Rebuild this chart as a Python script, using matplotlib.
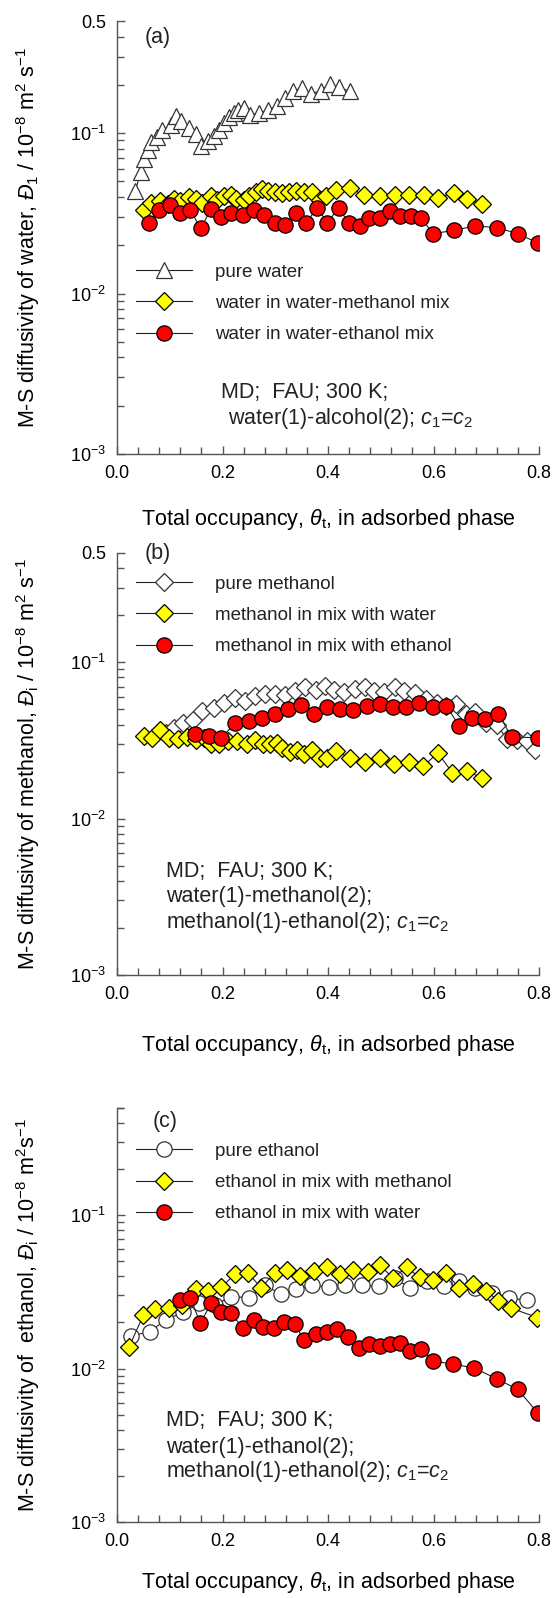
import numpy as np
import matplotlib
matplotlib.use("Agg")
import matplotlib.pyplot as plt
from matplotlib.ticker import FixedLocator, NullFormatter

plt.rcParams['font.family'] = ['Liberation Sans', 'DejaVu Sans']
plt.rcParams['mathtext.fontset'] = 'custom'
plt.rcParams['mathtext.rm'] = 'Liberation Sans'
plt.rcParams['mathtext.it'] = 'Liberation Sans:italic'
plt.rcParams['text.color'] = '#222222'

# ---------------- panel (a): water ----------------
a_pure_x = [0.035, 0.045, 0.052, 0.058, 0.065, 0.075, 0.085, 0.102, 0.112, 0.122, 0.136,
            0.149, 0.159, 0.172, 0.183, 0.193, 0.203, 0.213, 0.221, 0.230, 0.240, 0.253,
            0.270, 0.287, 0.303, 0.319, 0.334, 0.350, 0.367, 0.386, 0.404, 0.421, 0.441]
a_pure_y = [0.0438, 0.0575, 0.069, 0.079, 0.0875, 0.094, 0.104, 0.112, 0.128, 0.119, 0.107,
            0.099, 0.083, 0.0897, 0.0966, 0.104, 0.115, 0.126, 0.133, 0.140, 0.143, 0.130,
            0.133, 0.140, 0.147, 0.166, 0.184, 0.190, 0.175, 0.184, 0.201, 0.193, 0.182]

a_meoh_x = [0.052, 0.065, 0.082, 0.097, 0.109, 0.120, 0.136, 0.149, 0.162, 0.178, 0.189,
            0.203, 0.216, 0.226, 0.240, 0.250, 0.263, 0.274, 0.287, 0.300, 0.313, 0.327,
            0.340, 0.354, 0.370, 0.384, 0.397, 0.415, 0.442, 0.468, 0.498, 0.527, 0.554,
            0.582, 0.609, 0.638, 0.664, 0.691]
a_meoh_y = [0.033, 0.0369, 0.0378, 0.036, 0.0388, 0.0378, 0.0401, 0.0388, 0.0369, 0.0403, 0.0384,
            0.0403, 0.0411, 0.0391, 0.0384, 0.0406, 0.0427, 0.0449, 0.0438, 0.0427, 0.0423, 0.0431,
            0.0438, 0.0427, 0.0427, 0.0384, 0.0403, 0.0444, 0.0454, 0.0411, 0.0403, 0.0411, 0.0411,
            0.0411, 0.0397, 0.0423, 0.0391, 0.036]

a_etoh_x = [0.060, 0.080, 0.100, 0.119, 0.139, 0.159, 0.178, 0.198, 0.217, 0.238, 0.259,
            0.279, 0.299, 0.319, 0.339, 0.359, 0.379, 0.399, 0.420, 0.440, 0.460, 0.478,
            0.498, 0.517, 0.537, 0.557, 0.577, 0.599, 0.639, 0.679, 0.720, 0.760, 0.799]
a_etoh_y = [0.0277, 0.033, 0.0354, 0.0318, 0.033, 0.0255, 0.0337, 0.0299, 0.0318, 0.031, 0.033,
            0.031, 0.0277, 0.0267, 0.0318, 0.0277, 0.0342, 0.0277, 0.0342, 0.0274, 0.0264, 0.0295,
            0.0295, 0.0326, 0.0303, 0.0306, 0.0295, 0.0236, 0.0248, 0.0264, 0.0258, 0.0236, 0.0206]

# ---------------- panel (b): methanol ----------------
b_pure_x = [0.092, 0.109, 0.126, 0.144, 0.162, 0.183, 0.203, 0.223, 0.243, 0.261, 0.281,
            0.300, 0.319, 0.337, 0.357, 0.377, 0.394, 0.411, 0.431, 0.451, 0.471, 0.488,
            0.507, 0.527, 0.545, 0.565, 0.585, 0.606, 0.624, 0.642, 0.661, 0.679, 0.699,
            0.720, 0.740, 0.758, 0.777, 0.793]
b_pure_y = [0.0355, 0.0382, 0.0411, 0.0426, 0.0489, 0.0508, 0.0553, 0.0595, 0.0566, 0.0610, 0.0626,
            0.0626, 0.0619, 0.0651, 0.0691, 0.0664, 0.0708, 0.0664, 0.0641, 0.0674, 0.0698, 0.0658,
            0.0641, 0.0698, 0.0658, 0.0632, 0.0581, 0.0553, 0.0526, 0.0539, 0.0470, 0.0484, 0.0411,
            0.0397, 0.0321, 0.0317, 0.0313, 0.0273]

b_water_x = [0.052, 0.066, 0.082, 0.099, 0.115, 0.132, 0.149, 0.164, 0.179, 0.194, 0.211,
             0.228, 0.246, 0.261, 0.276, 0.290, 0.303, 0.313, 0.328, 0.342, 0.355, 0.370,
             0.384, 0.399, 0.416, 0.441, 0.471, 0.498, 0.525, 0.554, 0.581, 0.608, 0.636,
             0.663, 0.691]
b_water_y = [0.0337, 0.0326, 0.0367, 0.0329, 0.0322, 0.0333, 0.0317, 0.0326, 0.0298, 0.0301, 0.0313,
             0.0313, 0.0298, 0.0317, 0.0301, 0.0298, 0.0306, 0.0281, 0.0268, 0.0273, 0.0260, 0.0273,
             0.0243, 0.0243, 0.0270, 0.0245, 0.0231, 0.0245, 0.0222, 0.0231, 0.0216, 0.0264, 0.0196,
             0.0203, 0.0182]

b_etoh_x = [0.147, 0.174, 0.198, 0.223, 0.250, 0.275, 0.299, 0.324, 0.348, 0.374, 0.399,
            0.422, 0.448, 0.473, 0.498, 0.523, 0.548, 0.573, 0.599, 0.624, 0.649, 0.673,
            0.697, 0.723, 0.748, 0.799]
b_etoh_y = [0.0349, 0.0337, 0.0329, 0.0406, 0.0422, 0.0438, 0.0470, 0.0501, 0.0534, 0.0470, 0.0519,
            0.0501, 0.0494, 0.0526, 0.0539, 0.0514, 0.0519, 0.0553, 0.0514, 0.0526, 0.0392, 0.0438,
            0.0432, 0.0470, 0.0333, 0.0329]

# ---------------- panel (c): ethanol ----------------
c_pure_x = [0.026, 0.062, 0.093, 0.126, 0.156, 0.186, 0.216, 0.250, 0.280, 0.310, 0.340,
            0.370, 0.401, 0.433, 0.465, 0.496, 0.527, 0.556, 0.588, 0.619, 0.649, 0.679,
            0.711, 0.743, 0.777]
c_pure_y = [0.0163, 0.0174, 0.0209, 0.0233, 0.0266, 0.0259, 0.0295, 0.0290, 0.0351, 0.0306, 0.0328,
            0.0351, 0.0340, 0.0349, 0.0349, 0.0343, 0.0390, 0.0333, 0.0374, 0.0345, 0.0374, 0.0337,
            0.0311, 0.0287, 0.0280]

c_meoh_x = [0.023, 0.050, 0.072, 0.099, 0.124, 0.149, 0.172, 0.198, 0.223, 0.248, 0.273,
            0.299, 0.323, 0.347, 0.374, 0.399, 0.422, 0.448, 0.475, 0.498, 0.523, 0.549,
            0.574, 0.599, 0.624, 0.649, 0.674, 0.699, 0.723, 0.747, 0.797]
c_meoh_y = [0.0139, 0.0223, 0.0243, 0.0248, 0.0259, 0.0328, 0.0323, 0.0340, 0.0411, 0.0422, 0.0337,
            0.0420, 0.0442, 0.0404, 0.0433, 0.0457, 0.0411, 0.0442, 0.0426, 0.0473, 0.0390, 0.0457,
            0.0393, 0.0378, 0.0420, 0.0333, 0.0358, 0.0323, 0.0276, 0.0248, 0.0215]

c_water_x = [0.119, 0.139, 0.158, 0.178, 0.197, 0.217, 0.238, 0.259, 0.277, 0.297, 0.316,
             0.337, 0.355, 0.377, 0.398, 0.418, 0.438, 0.458, 0.478, 0.498, 0.518, 0.537,
             0.556, 0.577, 0.599, 0.637, 0.677, 0.720, 0.760, 0.798]
c_water_y = [0.0280, 0.0290, 0.0197, 0.0266, 0.0235, 0.0230, 0.0183, 0.0209, 0.0188, 0.0183, 0.0201,
             0.0194, 0.0153, 0.0168, 0.0174, 0.0181, 0.0161, 0.0136, 0.0144, 0.0141, 0.0145, 0.0147,
             0.0130, 0.0134, 0.0112, 0.0107, 0.0101, 0.00857, 0.00731, 0.00512]

xlabel = r'Total occupancy, $\it{\theta}_{\rm t}$, in adsorbed phase'
ylabels = [
    r'M-S diffusivity of water, $\it{Đ}_{\rm 1}$ / 10$^{-8}$ m$^2$ s$^{-1}$',
    r'M-S diffusivity of methanol, $\it{Đ}_{\rm i}$ / 10$^{-8}$ m$^2$ s$^{-1}$',
    r'M-S diffusivity of  ethanol, $\it{Đ}_{\rm i}$ / 10$^{-8}$ m$^2$s$^{-1}$',
]

W, H = 554, 1598
fig = plt.figure(figsize=(W / 100, H / 100), dpi=100)

def make_axes(top, bottom, left=117, right=539):
    return fig.add_axes([left / W, 1 - bottom / H, (right - left) / W, (bottom - top) / H])

def style_axes(ax, ylabel, xlab_y, top_label=True):
    ax.set_xlim(0, 0.8)
    ax.set_yscale('log')
    ax.set_ylim(1e-3, 0.5)
    for s in ('top', 'right'):
        ax.spines[s].set_visible(False)
    for s in ('left', 'bottom'):
        ax.spines[s].set_color('#555555')
        ax.spines[s].set_linewidth(1.0)
    ax.set_xticks([0.0, 0.2, 0.4, 0.6, 0.8])
    ax.set_xticklabels(['0.0', '0.2', '0.4', '0.6', '0.8'])
    ax.xaxis.set_minor_locator(FixedLocator(np.arange(0.04, 0.8, 0.04)))
    major = [1e-3, 1e-2, 1e-1]
    labels = ['$10^{-3}$', '$10^{-2}$', '$10^{-1}$']
    if top_label:
        major.append(0.5)
        labels.append('0.5')
    ax.yaxis.set_major_locator(FixedLocator(major))
    ax.set_yticklabels(labels)
    minors = [m * 10.0 ** e for e in (-3, -2, -1) for m in range(2, 10) if m * 10.0 ** e <= 0.5]
    if not top_label:
        minors.append(0.5)
    ax.yaxis.set_minor_locator(FixedLocator(minors))
    ax.yaxis.set_minor_formatter(NullFormatter())
    ax.tick_params(which='both', direction='in', color='#555555', labelsize=13, width=1.0)
    ax.tick_params(which='major', length=6, pad=8)
    ax.tick_params(which='minor', length=5)
    ax.set_xlabel(xlabel, fontsize=15.5, va='center')
    ax.xaxis.set_label_coords(0.5, xlab_y)
    ax.set_ylabel(ylabel, fontsize=15.5, va='center')
    ax.yaxis.set_label_coords(-0.21, 0.5)

def series(ax, x, y, marker, face, ms, label, ec='black'):
    ax.plot(x, y, color='#222222', lw=0.8, marker=marker, ms=ms, mfc=face, mec=ec,
            mew=0.9, label=label)

def note(ax, lines, x, ys):
    for t, y in zip(lines, ys):
        ax.text(x, y, t, transform=ax.transAxes, fontsize=15.5, va='center', ha='left')

def add_legend(ax, y):
    ax.legend(loc='center left', bbox_to_anchor=(0.045, y), frameon=False, fontsize=13.5,
              handlelength=3.0, handletextpad=1.2, labelspacing=0.75, borderpad=0,
              borderaxespad=0)

# (a)
ax = make_axes(21, 454)
style_axes(ax, ylabels[0], -0.152)
series(ax, a_pure_x, a_pure_y, '^', 'white', 11, 'pure water', ec='#333333')
series(ax, a_meoh_x, a_meoh_y, 'D', '#ffff00', 9.5, 'water in water-methanol mix')
series(ax, a_etoh_x, a_etoh_y, 'o', '#ff0000', 11, 'water in water-ethanol mix')
add_legend(ax, 0.348)
note(ax, ['MD;  FAU; 300 K;'], 0.247, [0.143])
note(ax, [r'water(1)-alcohol(2); $\it{c}_{\rm 1}$=$\it{c}_{\rm 2}$'], 0.262, [0.083])
ax.text(0.065, 0.962, '(a)', transform=ax.transAxes, fontsize=15.5, va='center')

# (b)
ax = make_axes(553, 975)
style_axes(ax, ylabels[1], -0.168)
series(ax, b_pure_x, b_pure_y, 'D', 'white', 9.5, 'pure methanol', ec='#333333')
series(ax, b_water_x, b_water_y, 'D', '#ffff00', 9.5, 'methanol in mix with water')
series(ax, b_etoh_x, b_etoh_y, 'o', '#ff0000', 11, 'methanol in mix with ethanol')
add_legend(ax, 0.852)
note(ax, ['MD;  FAU; 300 K;', 'water(1)-methanol(2);',
          r'methanol(1)-ethanol(2); $\it{c}_{\rm 1}$=$\it{c}_{\rm 2}$'],
     0.117, [0.245, 0.185, 0.125])
ax.text(0.065, 0.999, '(b)', transform=ax.transAxes, fontsize=15.5, va='center')

# (c)
ax = make_axes(1108, 1522)
style_axes(ax, ylabels[2], -0.145, top_label=False)
series(ax, c_pure_x, c_pure_y, 'o', 'white', 11, 'pure ethanol', ec='#333333')
series(ax, c_meoh_x, c_meoh_y, 'D', '#ffff00', 9.5, 'ethanol in mix with methanol')
series(ax, c_water_x, c_water_y, 'o', '#ff0000', 11, 'ethanol in mix with water')
add_legend(ax, 0.820)
note(ax, ['MD;  FAU; 300 K;', 'water(1)-ethanol(2);',
          r'methanol(1)-ethanol(2); $\it{c}_{\rm 1}$=$\it{c}_{\rm 2}$'],
     0.117, [0.244, 0.180, 0.121])
ax.text(0.085, 0.968, '(c)', transform=ax.transAxes, fontsize=15.5, va='center')

fig.savefig('out.png', dpi=100)
